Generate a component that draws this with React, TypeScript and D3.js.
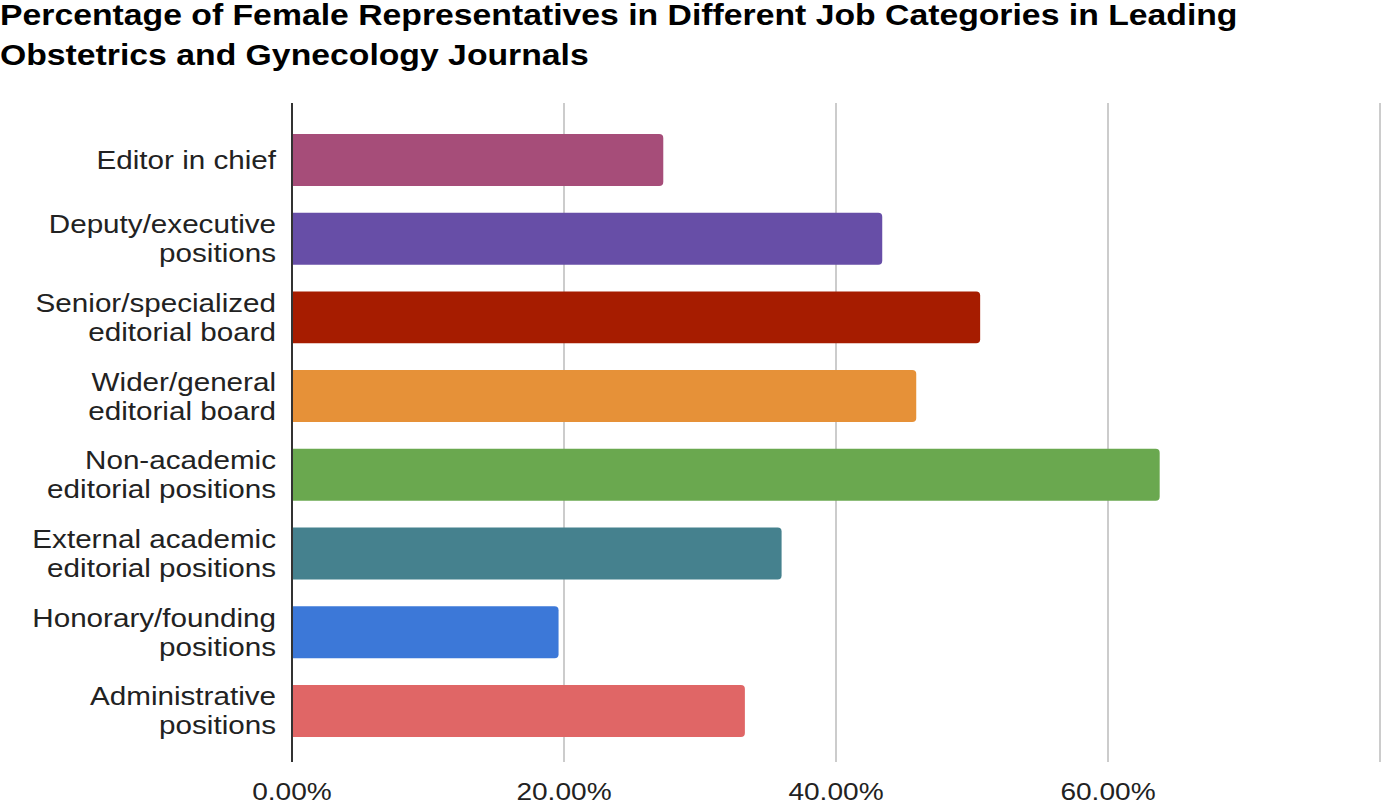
import React from "react";
import * as d3 from "d3";

const categories: string[][] = [
  ["Editor in chief"],
  ["Deputy/executive", "positions"],
  ["Senior/specialized", "editorial board"],
  ["Wider/general", "editorial board"],
  ["Non-academic", "editorial positions"],
  ["External academic", "editorial positions"],
  ["Honorary/founding", "positions"],
  ["Administrative", "positions"],
];
const values: number[] = [27.3, 43.4, 50.6, 45.9, 63.8, 36.0, 19.6, 33.3];
const colors: string[] = ["#a64d79", "#674ea7", "#a61c00", "#e69138", "#6aa84f", "#45818e", "#3c78d8", "#e06666"];
const ticks: number[] = [0, 20, 40, 60, 80];
const tickLabels: string[] = ["0.00%", "20.00%", "40.00%", "60.00%", ""];
const titleLines: string[] = [
  "Percentage of Female Representatives in Different Job Categories in Leading",
  "Obstetrics and Gynecology Journals",
];

const W = 1383;
const H = 806;
const FONT = "'Liberation Sans', Arial, Helvetica, sans-serif";

export default function App() {
  const x = d3.scaleLinear().domain([0, 80]).range([292, 1380]);
  const y = d3
    .scaleBand<number>()
    .domain(d3.range(categories.length))
    .range([120.6, 750.3])
    .paddingInner(0.34)
    .paddingOuter(0.17);
  const gridTop = 103;
  const gridBottom = 762;
  const r = 4;
  const barPath = (i: number) => {
    const x0 = x(0);
    const x1 = x(values[i]);
    const y0 = y(i)!;
    const h = y.bandwidth();
    const p = d3.path();
    p.moveTo(x0, y0);
    p.lineTo(x1 - r, y0);
    p.arcTo(x1, y0, x1, y0 + r, r);
    p.lineTo(x1, y0 + h - r);
    p.arcTo(x1, y0 + h, x1 - r, y0 + h, r);
    p.lineTo(x0, y0 + h);
    p.closePath();
    return p.toString();
  };
  return (
    <svg width={W} height={H} style={{ position: "absolute", left: 0, top: 0, background: "#fff" }}>
      <rect width={W} height={H} fill="#fff" />
      {titleLines.map((t, i) => (
        <text
          key={i}
          transform={`translate(0,${25 + i * 40}) scale(1.164,1)`}
          fontFamily={FONT}
          fontWeight="bold"
          fontSize={29}
          fill="#000"
        >
          {t}
        </text>
      ))}
      {ticks.slice(1).map((t) => (
        <line key={t} x1={x(t)} x2={x(t)} y1={gridTop} y2={gridBottom} stroke="#cccccc" strokeWidth={2} />
      ))}
      {values.map((v, i) => (
        <path key={i} d={barPath(i)} fill={colors[i]} />
      ))}
      <line x1={x(0)} x2={x(0)} y1={gridTop} y2={gridBottom} stroke="#333" strokeWidth={2} />
      {ticks.map((t, i) =>
        tickLabels[i] ? (
          <text
            key={t}
            transform={`translate(${x(t)},800) scale(1.17,1)`}
            textAnchor="middle"
            fontFamily={FONT}
            fontSize={24}
            fill="#222"
          >
            {tickLabels[i]}
          </text>
        ) : null
      )}
      {categories.map((lines, i) => {
        const cy = y(i)! + y.bandwidth() / 2;
        const lh = 29;
        const start = cy - ((lines.length - 1) * lh) / 2;
        return lines.map((ln, j) => (
          <text
            key={i + "-" + j}
            transform={`translate(276,${start + j * lh + 9}) scale(1.185,1)`}
            textAnchor="end"
            fontFamily={FONT}
            fontSize={25}
            fill="#222"
          >
            {ln}
          </text>
        ));
      })}
    </svg>
  );
}
